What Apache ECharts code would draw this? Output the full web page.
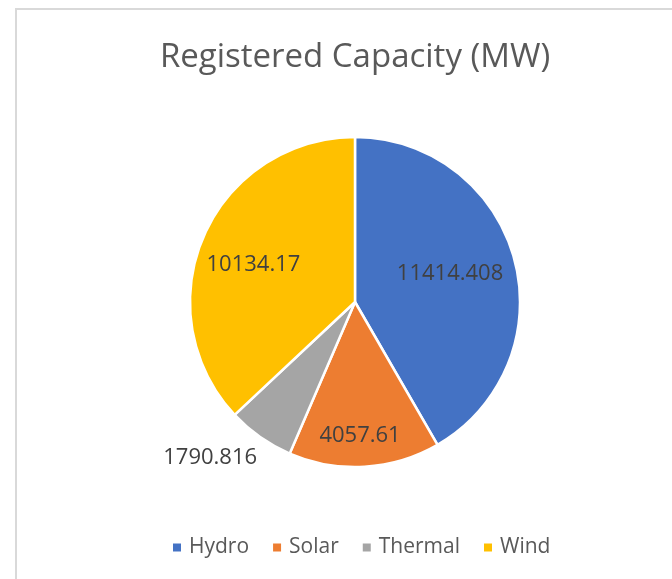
<!DOCTYPE html>
<html>
<head>
<meta charset="utf-8">
<script src="https://cdn.jsdelivr.net/npm/echarts@6/dist/echarts.min.js"></script>
<style>
html,body{margin:0;padding:0;background:#fff;}
#chart{width:672px;height:579px;}
</style>
</head>
<body>
<div id="chart"></div>
<script>
const categories = ['Hydro', 'Solar', 'Thermal', 'Wind'];
const values = [11414.408, 4057.61, 1790.816, 10134.17];
const colors = ['#4472C4', '#ED7D31', '#A5A5A5', '#FFC000'];
const labelTexts = ['11414.408', '4057.61', '1790.816', '10134.17'];

const CX = 355, CY = 302, R = 165;
// label placement as Excel put them: distance from centre (fraction of radius) and angle shift (deg)
const labelRadius = [0.60, 0.81, 1.29, 0.655];
const labelAngleShift = [-1.3, 1.2, 7.8, -3.4];

const total = values.reduce((a, b) => a + b, 0);
const midAngles = [];
{ let cum = 0; values.forEach(v => { midAngles.push(360 * (cum + v / 2) / total); cum += v; }); }

const chart = echarts.init(document.getElementById('chart'), null, {renderer: 'canvas'});
const FONT = 'Open Sans';

chart.setOption({
  animation: false,
  backgroundColor: '#fff',
  graphic: [{
    type: 'rect',
    shape: {x: 16, y: 9, width: 700, height: 620},
    style: {fill: 'none', stroke: '#d9d9d9', lineWidth: 2},
    silent: true
  }],
  title: {
    text: 'Registered Capacity (MW)',
    left: 350,
    textAlign: 'center',
    top: 36,
    textStyle: {fontFamily: FONT, fontSize: 33, fontWeight: 'normal', color: '#595959'}
  },
  legend: {
    data: categories,
    top: 537,
    left: 171,
    padding: 0,
    icon: 'rect',
    itemWidth: 10,
    itemHeight: 10,
    itemGap: 22,
    textStyle: {fontFamily: FONT, fontSize: 21, color: '#595959', padding: [0, 0, 0, 2]}
  },
  series: [{
    type: 'pie',
    center: [CX, CY],
    radius: [0, R],
    startAngle: 90,
    clockwise: true,
    color: colors,
    itemStyle: {borderColor: '#fff', borderWidth: 2.5},
    label: {
      show: true,
      position: 'inside',
      fontFamily: FONT,
      fontSize: 22,
      color: '#404040',
      formatter: p => labelTexts[p.dataIndex]
    },
    labelLine: {show: false},
    labelLayout: function (params) {
      const i = params.dataIndex;
      const a = (midAngles[i] + labelAngleShift[i]) * Math.PI / 180;
      const r = labelRadius[i] * R;
      return {x: CX + r * Math.sin(a), y: CY - r * Math.cos(a), align: 'center', verticalAlign: 'middle'};
    },
    emphasis: {disabled: true},
    data: categories.map((c, i) => ({name: c, value: values[i]}))
  }]
});
</script>
</body>
</html>
